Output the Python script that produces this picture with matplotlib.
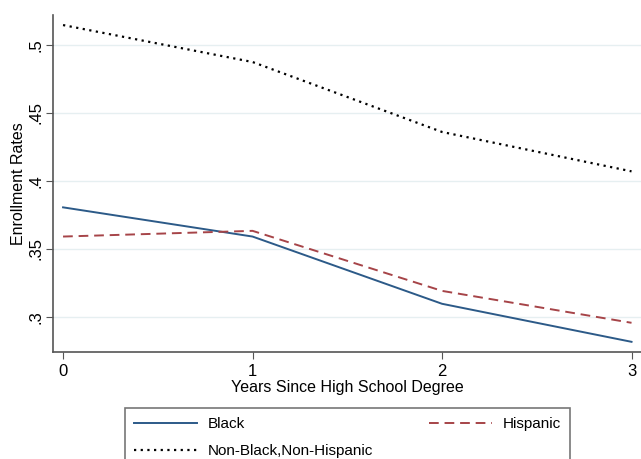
import matplotlib
matplotlib.use("Agg")
import matplotlib.pyplot as plt

plt.rcParams['font.family'] = ['Liberation Sans', 'DejaVu Sans']

years = [0, 1, 2, 3]
black = [0.3805, 0.3590, 0.3095, 0.2815]
hispanic = [0.3590, 0.3632, 0.3190, 0.2955]
nonblack = [0.5147, 0.4875, 0.4360, 0.4070]
yticks = [0.3, 0.35, 0.4, 0.45, 0.5]
yticklabels = ['.3', '.35', '.4', '.45', '.5']

fig = plt.figure(figsize=(6.41, 4.59), dpi=100)
ax = fig.add_axes([0.0827, 0.2331, 0.9173, 0.7339])

l1, = ax.plot(years, black, color='#2c5a88', lw=1.4, label='Black')
l2, = ax.plot(years, hispanic, color='#a64448', lw=1.4, ls=(0, (5, 3)), label='Hispanic')
l3, = ax.plot(years, nonblack, color='black', lw=1.6, ls=(0, (1, 2)), label='Non-Black,Non-Hispanic')

ax.set_xlim(-0.053, 3.05)
ax.set_ylim(0.274, 0.522)
ax.set_xticks(years)
ax.set_yticks(yticks)
ax.set_yticklabels(yticklabels, rotation=90, va='center')
ax.tick_params(labelsize=12, color='#555555', length=5)
ax.tick_params(axis='y', pad=2)
for s in ['top', 'right']:
    ax.spines[s].set_visible(False)
for s in ['left', 'bottom']:
    ax.spines[s].set_color('#555555')
    ax.spines[s].set_linewidth(1.2)
ax.grid(axis='y', color='#e6eff1', lw=1)
ax.set_axisbelow(True)

ax.set_xlabel('Years Since High School Degree', fontsize=11.5, labelpad=1)
ax.set_ylabel('Enrollment Rates', fontsize=11.5, labelpad=2)

leg = fig.legend([l1, l3, l2], ['Black', 'Non-Black,Non-Hispanic', 'Hispanic'],
                 ncol=2, loc='upper left', bbox_to_anchor=(0.195, -0.05, 0.694, 0.161),
                 mode='expand', fontsize=11, frameon=True, fancybox=False,
                 edgecolor='#555555', handlelength=4.1, borderaxespad=0,
                 labelspacing=0.85, handletextpad=0.7, borderpad=0.6)
leg.get_frame().set_linewidth(1.2)

fig.savefig('out.png', dpi=100)
